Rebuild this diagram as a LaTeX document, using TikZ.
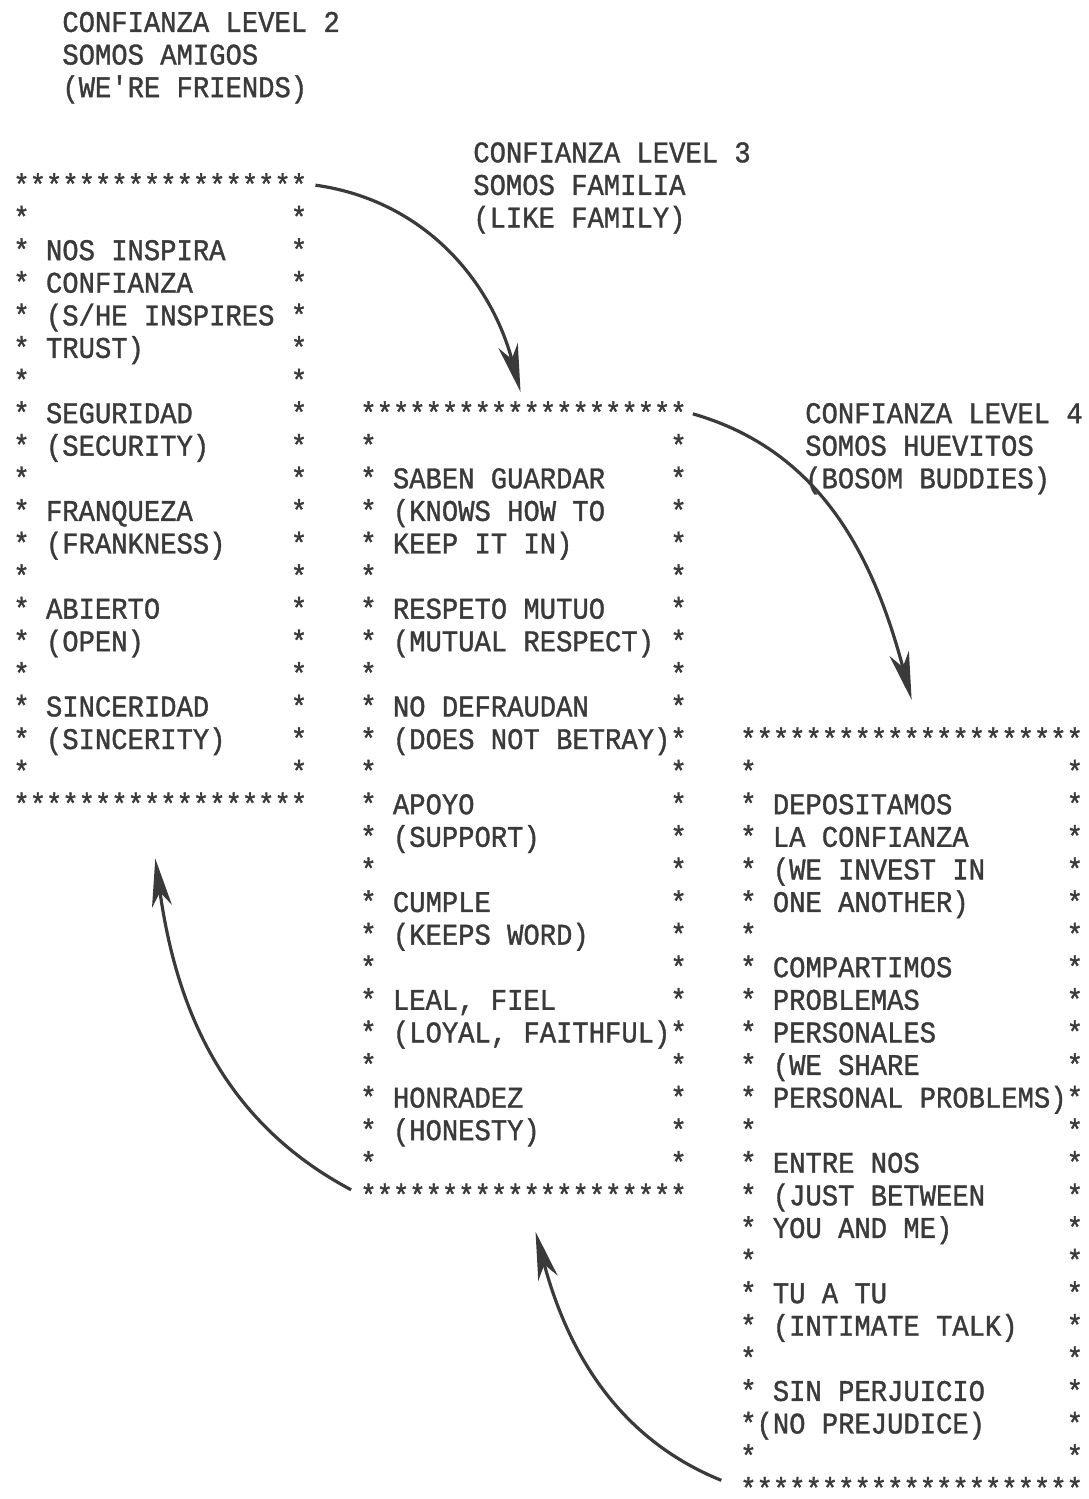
\documentclass[tikz,border=0pt]{standalone}
\usepackage{fontspec}
\newfontfamily\typewriter[FakeBold=1.2, FakeStretch=0.9067]{Liberation Mono}
\usepackage{xcolor}
\usepackage{tikz}
\usetikzlibrary{calc}
\usetikzlibrary{arrows.meta}

\definecolor{ink}{HTML}{3A3A3A}
\tikzset{
  typed/.style={inner sep=0pt, anchor=base west, yshift=-4.4pt, text=ink,
    font=\typewriter\fontsize{15}{18}\selectfont},
  bend arrow/.style={draw=ink, line width=1.6pt,
    -{Stealth[length=24pt, width=10pt, inset=7pt]}}
}

\begin{document}
\begin{tikzpicture}[x=0.5pt, y=-16.3pt]
        %BATAS
        \useasboundingbox (0,-5.71) rectangle (1089,40.28);

        %JUDUL
        \node[typed] (h2a) at (62,-5) {CONFIANZA LEVEL 2};
        \node[typed] (h2b) at (62,-4) {SOMOS AMIGOS};
        \node[typed] (h2c) at (62,-3) {(WE'RE FRIENDS)};
        \node[typed] (h3a) at (473,-1) {CONFIANZA LEVEL 3};
        \node[typed] (h3b) at (473,0) {SOMOS FAMILIA};
        \node[typed] (h3c) at (473,1) {(LIKE FAMILY)};
        \node[typed] (h4a) at (805,7) {CONFIANZA LEVEL 4};
        \node[typed] (h4b) at (805,8) {SOMOS HUEVITOS};
        \node[typed] (h4c) at (805,9) {(BOSOM BUDDIES)};

        %KOTAK 1
        \node[typed] (top1) at (13,0) {******************};
        \node[typed] (bot1) at (13,19) {******************};
        \foreach \r in {1,...,18} {
            \node[typed] (b1l-\r) at (13,\r) {*};
            \node[typed, anchor=base east] (b1r-\r) at (top1.east |- 0,\r) {*};
        }
        \foreach \r/\t in {2/NOS INSPIRA, 3/CONFIANZA, 4/{(S/HE INSPIRES}, 5/{TRUST)},
                7/SEGURIDAD, 8/{(SECURITY)}, 10/FRANQUEZA, 11/{(FRANKNESS)},
                13/ABIERTO, 14/{(OPEN)}, 16/SINCERIDAD, 17/{(SINCERITY)}}
            \node[typed] (b1t-\r) at (45.6,\r) {\t};

        %KOTAK 2
        \node[typed] (top2) at (360,7) {********************};
        \node[typed] (bot2) at (360,31) {********************};
        \foreach \r in {8,...,30} {
            \node[typed] (b2l-\r) at (360,\r) {*};
            \node[typed, anchor=base east] (b2r-\r) at (top2.east |- 0,\r) {*};
        }
        \foreach \r/\t in {9/SABEN GUARDAR, 10/{(KNOWS HOW TO}, 11/{KEEP IT IN)},
                13/RESPETO MUTUO, 14/{(MUTUAL RESPECT)}, 16/NO DEFRAUDAN,
                17/{(DOES NOT BETRAY)}, 19/APOYO, 20/{(SUPPORT)}, 22/CUMPLE,
                23/{(KEEPS WORD)}, 25/{LEAL, FIEL}, 26/{(LOYAL, FAITHFUL)},
                28/HONRADEZ, 29/{(HONESTY)}}
            \node[typed] (b2t-\r) at (392.6,\r) {\t};

        %KOTAK 3
        \node[typed] (top3) at (740,17) {*********************};
        \node[typed] (bot3) at (740,40) {*********************};
        \foreach \r in {18,...,39} {
            \node[typed] (b3l-\r) at (740,\r) {*};
            \node[typed, anchor=base east] (b3r-\r) at (top3.east |- 0,\r) {*};
        }
        \foreach \r/\t in {19/DEPOSITAMOS, 20/LA CONFIANZA, 21/{(WE INVEST IN},
                22/{ONE ANOTHER)}, 24/COMPARTIMOS, 25/PROBLEMAS, 26/PERSONALES,
                27/{(WE SHARE}, 28/{PERSONAL PROBLEMS)}, 30/ENTRE NOS,
                31/{(JUST BETWEEN}, 32/{YOU AND ME)}, 34/TU A TU,
                35/{(INTIMATE TALK)}, 37/SIN PERJUICIO}
            \node[typed] (b3t-\r) at (772.6,\r) {\t};
        \node[typed] (b3t-38) at (756.3,38) {(NO PREJUDICE)};

        %PANAH
        \draw[bend arrow, shorten <=4pt] (top1.east) to[out=-8, in=105] ([xshift=-1.5pt, yshift=4.5pt]top2.north);
        \draw[bend arrow, shorten <=3pt] (top2.east) to[out=-16, in=105] ([yshift=13.5pt]top3.north);
        \draw[bend arrow, shorten <=10pt] (bot3.west) to[out=158, in=-75] ([xshift=6pt, yshift=-13pt]bot2.south);
        \draw[bend arrow, shorten <=5pt] (bot2.west) to[out=152, in=-82] ([xshift=-2.5pt, yshift=-22pt]bot1.south);
    \end{tikzpicture}
\end{document}
